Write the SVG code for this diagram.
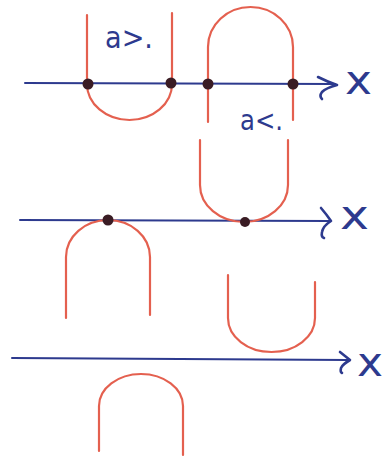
<svg xmlns="http://www.w3.org/2000/svg" width="385" height="459" viewBox="0 0 385 459">
<style>
.curve{fill:none;stroke:#e4604f;stroke-width:2.2;stroke-linecap:round;stroke-linejoin:round}
.axis{fill:none;stroke:#2d3a8e;stroke-width:2;stroke-linecap:round;stroke-linejoin:round}
.head{fill:none;stroke:#2d3a8e;stroke-width:2.6;stroke-linecap:round;stroke-linejoin:round}
.dot{fill:#3a1c24}
.lbl{font-family:"DejaVu Sans",sans-serif;fill:#2d3a8e}
</style>
<rect width="385" height="459" fill="#ffffff"/>
<g id="connectors">
<path class="axis" d="M25,83 L335,84"/>
<path class="head" d="M318,77 Q328,82 337,85 Q326,88 322,92 Q319,96 322,99"/>
<path class="axis" d="M20,220 L330,221"/>
<path class="head" d="M321,208 Q327,215 331,221 Q323,226 322,232 Q321,237 324,238"/>
<path class="axis" d="M12,358 L348,360"/>
<path class="head" d="M340,352 Q345,356 350,360 Q343,364 341,368 Q340,372 342,373"/>
</g>
<g id="curve-top-left"><path class="curve" d="M87,15 L87,84 A42.5,36 0 0 0 172,84 L172,13"/></g>
<g id="curve-top-right"><path class="curve" d="M208,122 L208,47 A42.5,40 0 0 1 293,47 L293,120"/></g>
<g id="curve-mid-u"><path class="curve" d="M200,140 L200,185 A44,37 0 0 0 288,185 L288,140"/></g>
<g id="curve-mid-cap"><path class="curve" d="M66,318 L66,257 A42,37 0 0 1 150,257 L150,315"/></g>
<g id="curve-small-u"><path class="curve" d="M228,275 L228,318 A43.5,34 0 0 0 315,318 L315,282"/></g>
<g id="curve-bottom-cap"><path class="curve" d="M99,451 L99,406 A42,32 0 0 1 183,406 L183,455"/></g>
<g id="dots">
<circle class="dot" cx="88" cy="84" r="5.5"/>
<circle class="dot" cx="171" cy="83" r="5.5"/>
<circle class="dot" cx="208" cy="84" r="5.5"/>
<circle class="dot" cx="293" cy="84" r="5.5"/>
<circle class="dot" cx="108" cy="220" r="5.5"/>
<circle class="dot" cx="245" cy="222" r="5"/>
</g>
<g id="labels">
<text class="lbl" x="105" y="48" font-size="30" textLength="48" lengthAdjust="spacingAndGlyphs">a&gt;.</text>
<text class="lbl" x="240" y="130" font-size="28" textLength="43" lengthAdjust="spacingAndGlyphs">a&lt;.</text>
<text class="lbl" x="345" y="94" font-size="40" textLength="27" lengthAdjust="spacingAndGlyphs">x</text>
<text class="lbl" x="340" y="229" font-size="40" textLength="29" lengthAdjust="spacingAndGlyphs">x</text>
<text class="lbl" x="357" y="376" font-size="40" textLength="26" lengthAdjust="spacingAndGlyphs">x</text>
</g>
</svg>
